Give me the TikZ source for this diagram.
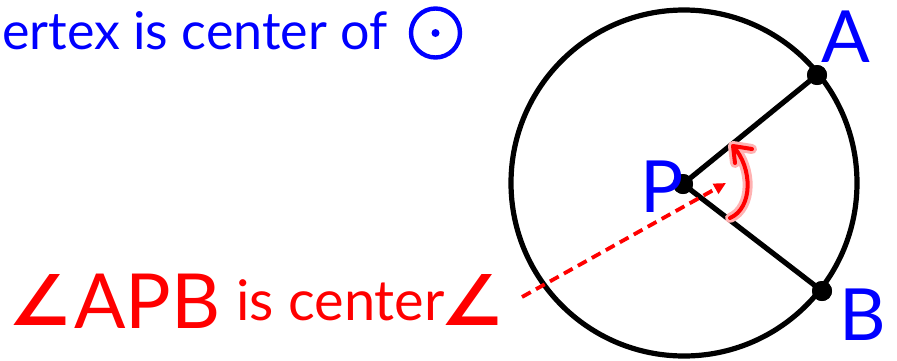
\documentclass[tikz,border=0pt]{standalone}
\usepackage{fontspec}
\setmainfont{Lato}
\newfontfamily\symfont{DejaVu Sans}
\usetikzlibrary{arrows.meta,positioning,calc}

\begin{document}
\begin{tikzpicture}[x=1pt,y=-1pt,
    ptlabel/.style={text=blue,inner sep=0pt,anchor=base,
                    font=\fontsize{72}{72}\selectfont},
    dotpt/.style={circle,fill=black,inner sep=0pt,minimum size=20pt},
    radius line/.style={line width=5.2pt},
    note/.style={inner sep=0pt,anchor=base west}]
  \useasboundingbox (0,0) rectangle (897,360);

  % the circle and its centre
  \node[circle,draw,line width=5.2pt,inner sep=0pt,minimum size=346pt] (circ) at (684,183) {};
  \node[dotpt] (P) at (683,184) {};
  \node[dotpt] (A) at (817,75) {};
  \node[dotpt] (B) at (822,291) {};
  \draw[radius line] (P.center) -- (A.center);
  \draw[radius line] (P.center) -- (B.center);
  \node[dotpt] at (P) {};
  \node[dotpt] at (A) {};
  \node[dotpt] at (B) {};

  \node[ptlabel] (lA) at (846,62) {A};
  \node[ptlabel] (lB) at (863,340) {B};
  \node[ptlabel] (lP) at (662,212) {P};

  % heading
  \node[note,text=blue,font=\fontsize{52}{52}\selectfont] (head) at (2,49) {ertex is center of};
  \node[circle,draw=blue,line width=4.4pt,inner sep=0pt,minimum size=49pt] (odot) at (435.5,33) {};
  \fill[blue] (odot.center) circle (4pt);

  % label of the angle
  \node[note,text=red,font=\symfont\bfseries\fontsize{70}{70}\selectfont] (ang1) at (8,325) {∠};
  \node[note,text=red,font=\fontsize{76}{76}\selectfont] (apb) at (74,328) {APB};
  \node[note,text=red,font=\fontsize{56}{56}\selectfont] (iscenter) at (236,320) {is center};
  \node[note,text=red,font=\symfont\bfseries\fontsize{70}{70}\selectfont] (ang2) at (440,325) {∠};

  % arrows
  \coordinate (dstart) at (522,297);
  \coordinate (dend) at (726,183);
  \draw[red,line width=3.8pt,dash pattern=on 10pt off 6pt,-{Triangle[length=12pt,width=11pt]}] (dstart) -- (dend);

  \coordinate (turnlo) at (730,218);
  \coordinate (turnhi) at (733,146);
  \foreach \w/\c in {10pt/red!30, 4pt/red}
    \draw[\c,line width=\w,line cap=round,line join=round]
      (turnlo) .. controls (753,208) and (753,168) .. (turnhi)
      (turnhi) -- (752,149)
      (turnhi) -- (735,163);
\end{tikzpicture}
\end{document}
